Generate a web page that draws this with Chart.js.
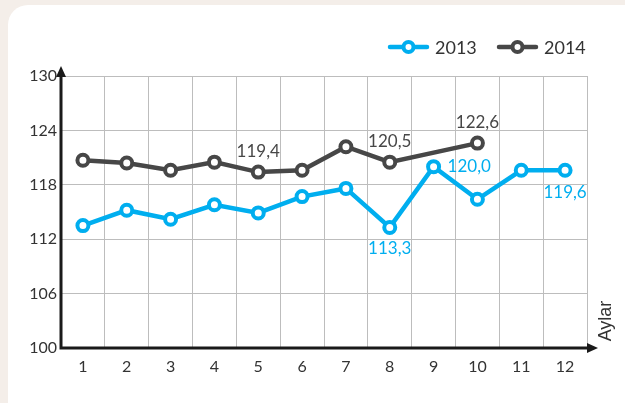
<!DOCTYPE html>
<html>
<head>
<meta charset="utf-8">
<script src="https://cdn.jsdelivr.net/npm/chart.js@4"></script>
<style>
  html, body { margin: 0; padding: 0; background: #f4eee9; }
  #wrap { width: 625px; height: 403px; }
</style>
</head>
<body>
<div id="wrap"><canvas id="chart" width="625" height="403"></canvas></div>
<script>
// months on the x axis
const MONTHS = ["1", "2", "3", "4", "5", "6", "7", "8", "9", "10", "11", "12"];
// index values per month
const VALUES_2013 = [113.5, 115.2, 114.2, 115.8, 114.9, 116.7, 117.6, 113.3, 120.0, 116.4, 119.6, 119.6];
const VALUES_2014 = [120.7, 120.4, 119.6, 120.5, 119.4, 119.6, 122.2, 120.5, null, 122.6, null, null];
const Y_TICKS = [100, 106, 112, 118, 124, 130];

// [dataset, month index, text, dx, dy, align]
const VALUE_LABELS = [
  [1, 4, "119,4", 0, -21, "center"],
  [1, 7, "120,5", 0, -21, "center"],
  [1, 9, "122,6", 0, -21, "center"],
  [0, 7, "113,3", 0, 21, "center"],
  [0, 8, "120,0", 14, 0, "left"],
  [0, 11, "119,6", 0, 22, "center"],
];

const BLUE = "#00aeef";
const GREY = "#474747";
const FONT = "Lato, 'Open Sans', sans-serif";

// white card behind the chart
const cardPlugin = {
  id: "card",
  beforeDraw(chart) {
    const ctx = chart.ctx;
    ctx.save();
    ctx.fillStyle = "#f4eee9";
    ctx.fillRect(0, 0, chart.width, chart.height);
    ctx.fillStyle = "#ffffff";
    ctx.beginPath();
    ctx.roundRect(8, 5, 650, 420, 20);
    ctx.fill();
    ctx.restore();
  },
};

// axis lines with arrows, axis title, legend and value labels
const decorPlugin = {
  id: "decor",
  afterDatasetsDraw(chart) {
    const ctx = chart.ctx;
    const a = chart.chartArea;
    ctx.save();
    ctx.strokeStyle = "#1a1a1a";
    ctx.fillStyle = "#1a1a1a";
    ctx.lineWidth = 3;
    ctx.beginPath();
    ctx.moveTo(a.left, a.bottom + 1.5);
    ctx.lineTo(a.left, a.top - 4);
    ctx.moveTo(a.left - 1.5, a.bottom);
    ctx.lineTo(a.right + 3, a.bottom);
    ctx.stroke();
    // arrow heads
    ctx.beginPath();
    ctx.moveTo(a.left, a.top - 10);
    ctx.lineTo(a.left - 5, a.top + 1);
    ctx.lineTo(a.left + 5, a.top + 1);
    ctx.closePath();
    ctx.fill();
    ctx.beginPath();
    ctx.moveTo(a.right + 11, a.bottom);
    ctx.lineTo(a.right, a.bottom - 5);
    ctx.lineTo(a.right, a.bottom + 5);
    ctx.closePath();
    ctx.fill();

    // axis title
    ctx.fillStyle = "#333";
    ctx.font = "18px 'Liberation Sans', Arial, sans-serif";
    ctx.translate(606, a.bottom - 27);
    ctx.rotate(-Math.PI / 2);
    ctx.textAlign = "center";
    ctx.textBaseline = "middle";
    ctx.fillText("Aylar", 0, 0);
    ctx.setTransform(1, 0, 0, 1, 0, 0);

    // value labels
    ctx.font = "17px " + FONT;
    VALUE_LABELS.forEach(([ds, i, text, dx, dy, align]) => {
      const pt = chart.getDatasetMeta(ds).data[i];
      ctx.fillStyle = chart.data.datasets[ds].borderColor;
      ctx.textAlign = align;
      ctx.textBaseline = "middle";
      ctx.fillText(text, pt.x + dx, pt.y + dy);
    });

    // legend
    const legendX = [390, 499];
    chart.data.datasets.forEach((d, k) => {
      const x = legendX[k], y = 47;
      ctx.strokeStyle = d.borderColor;
      ctx.lineWidth = 4.5;
      ctx.lineCap = "round";
      ctx.beginPath();
      ctx.moveTo(x, y);
      ctx.lineTo(x + 37, y);
      ctx.stroke();
      ctx.fillStyle = "#fff";
      ctx.lineWidth = 4;
      ctx.beginPath();
      ctx.arc(x + 18.5, y, 5, 0, Math.PI * 2);
      ctx.fill();
      ctx.stroke();
      ctx.fillStyle = "#333";
      ctx.font = "18px " + FONT;
      ctx.textAlign = "left";
      ctx.fillText(d.label, x + 45, y + 1);
    });
    ctx.restore();
  },
};

new Chart(document.getElementById("chart"), {
  type: "line",
  data: {
    labels: MONTHS,
    datasets: [
      {
        label: "2013",
        data: VALUES_2013,
        borderColor: BLUE,
        backgroundColor: "#fff",
        borderWidth: 4.5,
        pointRadius: 5.5,
        pointBorderWidth: 4,
        pointBackgroundColor: "#fff",
        tension: 0,
      },
      {
        label: "2014",
        data: VALUES_2014,
        borderColor: GREY,
        backgroundColor: "#fff",
        borderWidth: 4.5,
        pointRadius: 5.5,
        pointBorderWidth: 4,
        pointBackgroundColor: "#fff",
        spanGaps: true,
        tension: 0,
      },
    ],
  },
  options: {
    responsive: false,
    animation: false,
    layout: { padding: { left: 0, top: 76, right: 38, bottom: 0 } },
    plugins: { legend: { display: false }, tooltip: { enabled: false } },
    scales: {
      x: {
        type: "category",
        offset: true,
        grid: { offset: true, color: "#bdbdbd", lineWidth: 1, drawTicks: false },
        border: { display: false },
        ticks: { color: "#333", font: { family: FONT, size: 16 }, padding: 9 },
        afterFit(scale) { scale.height = 55; },
      },
      y: {
        min: 100,
        max: 130,
        afterBuildTicks(scale) { scale.ticks = Y_TICKS.map((v) => ({ value: v })); },
        grid: { color: "#bdbdbd", lineWidth: 1, drawTicks: false },
        border: { display: false },
        ticks: { color: "#333", font: { family: FONT, size: 16 }, padding: 4 },
        afterFit(scale) { scale.width = 61; },
      },
    },
  },
  plugins: [cardPlugin, decorPlugin],
});
</script>
</body>
</html>
